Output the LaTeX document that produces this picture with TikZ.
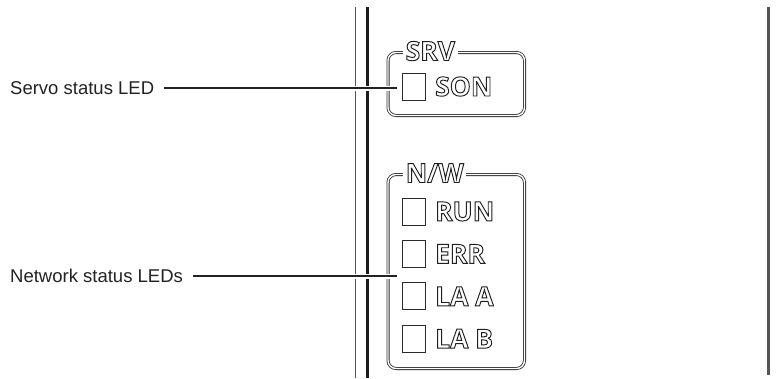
\documentclass[tikz,border=0pt]{standalone}
\usepackage{fontspec}
\setmainfont{Liberation Sans}
\newfontfamily\panelfont{Open Sans}
\usepackage{tikz}
\usetikzlibrary{positioning}
\definecolor{PanelInk}{HTML}{2A2A2A}
\definecolor{PanelGray}{HTML}{555555}
\definecolor{PanelRail}{HTML}{1C1C1C}
\definecolor{LeaderInk}{HTML}{222222}
% hollow lettering as printed on the panel
\newcommand{\hollowtext}[1]{\special{pdf:literal direct 1 Tr 0.95 w 0.12 G}#1\special{pdf:literal direct 0 Tr}}

\begin{document}
\begin{tikzpicture}[x=1pt,y=-1pt,node distance=14.5pt,
  ledsq/.style={draw=PanelInk,line width=0.9pt,minimum width=23pt,minimum height=27pt,inner sep=0pt},
  ledname/.style={inner sep=0pt,font=\fontsize{26.5}{26.5}\panelfont\bfseries\selectfont},
  grouptitle/.style={ledname,fill=white,inner xsep=2.5pt,anchor=base west},
  panelbox/.style={draw=PanelInk,double=white,double distance=1.4pt,line width=0.8pt,rounded corners=8pt},
  callout/.style={inner xsep=5pt,inner ysep=0pt,font=\fontsize{18.5}{18.5}\selectfont,text=LeaderInk},
  leader/.style={draw=LeaderInk,line width=1.1pt,shorten <=5pt},
  halo/.style={draw=white,line width=5pt,shorten <=5pt}]
  \useasboundingbox (0,0) rectangle (776,378);

  % housing edges
  \draw[PanelGray,line width=1.3pt] (355.5,7) -- (355.5,378);
  \draw[PanelRail,line width=2.3pt] (367.5,7) -- (367.5,378);
  \draw[PanelGray,line width=3.2pt] (768.5,7) -- (768.5,375);

  % SRV group
  \draw[panelbox] (388,52.5) rectangle (524.5,115.5);
  \node[grouptitle] (srv) at (403,60.5) {\hollowtext{SRV}};
  \node[ledsq] (sonled) at (414,86.5) {};
  \node[ledname,right=9pt of sonled] (son) {\hollowtext{SON}};

  % N/W group
  \draw[panelbox] (388,174.5) rectangle (524.5,368.5);
  \node[grouptitle] (nw) at (403,182.5) {\hollowtext{N/W}};
  \node[ledsq] (runled) at (414,211.5) {};
  \node[ledsq,below=of runled] (errled) {};
  \node[ledsq,below=of errled] (laaled) {};
  \node[ledsq,below=of laaled] (labled) {};
  \node[ledname,right=9pt of runled] (run) {\hollowtext{RUN}};
  \node[ledname,right=9pt of errled] (err) {\hollowtext{ERR}};
  \node[ledname,right=9pt of laaled] (laa) {\hollowtext{LA A}};
  \node[ledname,right=9pt of labled] (lab) {\hollowtext{LA B}};

  % callouts
  \node[callout,anchor=west] (servo) at (5,88) {Servo status LED};
  \node[callout,anchor=west] (network) at (5,276) {Network status LEDs};
  \coordinate (servoend) at (397,88);
  \coordinate (networkend) at (397,276);
  \draw[halo] (servo.east) -- (servoend);
  \draw[leader] (servo.east) -- (servoend);
  \draw[halo] (network.east) -- (networkend);
  \draw[leader] (network.east) -- (networkend);
\end{tikzpicture}
\end{document}
